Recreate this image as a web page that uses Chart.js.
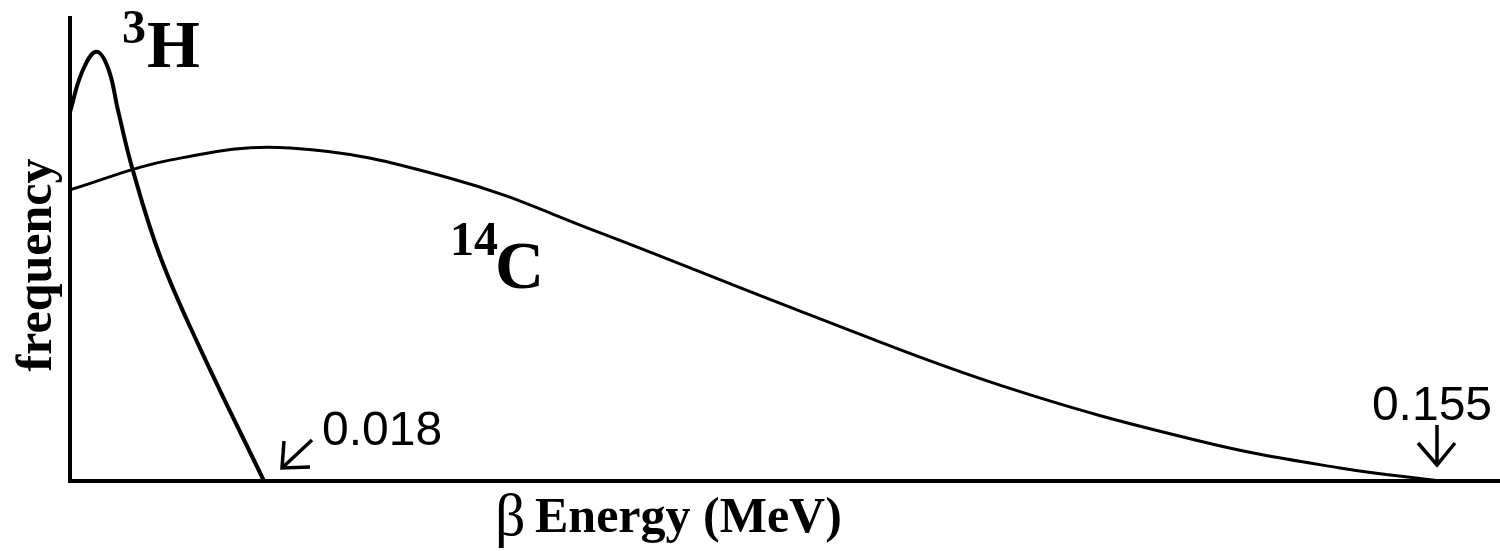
<!DOCTYPE html>
<html>
<head>
<meta charset="utf-8">
<title>Beta energy spectra of 3H and 14C</title>
<script src="https://cdn.jsdelivr.net/npm/chart.js@4/dist/chart.umd.min.js"></script>
<style>
  html, body { margin: 0; padding: 0; background: #fff; }
  #wrap { width: 1500px; height: 551px; }
</style>
</head>
<body>
<div id="wrap"><canvas id="spectrum" width="1500" height="551"></canvas></div>
<script>
// Tritium beta spectrum: energy (MeV) and relative frequency
const h3Energy = [0, 0.00111, 0.00241, 0.00353, 0.00445, 0.00575, 0.00835, 0.01206, 0.018];
const h3Freq   = [79.7, 88.3, 92.7, 89.2, 80.1, 67.8, 48.6, 28.7, 0];

// Carbon-14 beta spectrum: energy (MeV) and relative frequency
const c14Energy = [0, 0.0113, 0.0249, 0.0430, 0.0600, 0.0826, 0.1052, 0.1279, 0.1437, 0.155];
const c14Freq   = [62.9, 69.3, 71.9, 65.4, 53.6, 36.7, 20.7, 8.6, 2.8, 0];

// Endpoint energies (MeV) marked with arrows
const endpointLabels = ['0.018', '0.155'];
const endpointValues = [0.018, 0.155];

const toPoints = (xs, ys) => xs.map((x, i) => ({ x, y: ys[i] }));

const serif = '"Liberation Serif", "Times New Roman", serif';
const sans = '"Liberation Sans", Arial, sans-serif';

function arrowPath(ctx, pts) {
  ctx.beginPath();
  ctx.moveTo(pts[0][0], pts[0][1]);
  for (let i = 1; i < pts.length; i++) ctx.lineTo(pts[i][0], pts[i][1]);
  ctx.stroke();
}

const annotations = {
  id: 'spectrumAnnotations',
  afterDraw(chart) {
    const { ctx } = chart;
    const { x, x2, y } = chart.scales;
    ctx.save();
    ctx.fillStyle = '#000';
    ctx.strokeStyle = '#000';
    ctx.textBaseline = 'alphabetic';

    // Isotope labels
    ctx.textAlign = 'left';
    ctx.font = 'bold 48px ' + serif;
    ctx.fillText('3', 122, 43);
    ctx.font = 'bold 68px ' + serif;
    ctx.fillText('H', 147, 67);
    ctx.font = 'bold 48px ' + serif;
    ctx.fillText('14', 450, 255);
    ctx.font = 'bold 68px ' + serif;
    ctx.fillText('C', 495, 288);

    // Axis titles
    ctx.save();
    ctx.translate(51, 265);
    ctx.rotate(-Math.PI / 2);
    ctx.textAlign = 'center';
    ctx.font = 'bold 50px ' + serif;
    ctx.fillText('frequency', 0, 0);
    ctx.restore();

    ctx.textAlign = 'left';
    ctx.font = '60px ' + serif;
    ctx.fillText('β', 495, 535);
    ctx.font = 'bold 50px ' + serif;
    ctx.fillText('Energy (MeV)', 535, 532);

    // Endpoint markers
    ctx.lineWidth = 3.5;
    ctx.lineCap = 'butt';
    ctx.lineJoin = 'miter';
    const base = y.getPixelForValue(0);

    const t1 = x.getPixelForValue(endpointValues[0]);
    const tip1 = [t1 + 18, base - 13];
    arrowPath(ctx, [[t1 + 48, base - 41], tip1]);
    arrowPath(ctx, [[tip1[0] + 2, tip1[1] - 27], tip1, [tip1[0] + 28, tip1[1] - 1]]);
    ctx.font = '48px ' + sans;
    ctx.textAlign = 'left';
    ctx.fillText(endpointLabels[0], t1 + 58, base - 36);

    const t2 = x2.getPixelForValue(endpointValues[1]);
    const tip2 = [t2 - 3, base - 16];
    arrowPath(ctx, [[tip2[0], base - 56], tip2]);
    arrowPath(ctx, [[tip2[0] - 19, tip2[1] - 22], tip2, [tip2[0] + 18, tip2[1] - 22]]);
    ctx.textAlign = 'center';
    ctx.fillText(endpointLabels[1], t2 - 8, base - 61);

    ctx.restore();
  }
};

new Chart(document.getElementById('spectrum'), {
  type: 'line',
  data: {
    datasets: [
      {
        label: '3H',
        data: toPoints(h3Energy, h3Freq),
        xAxisID: 'x',
        borderColor: '#000',
        borderWidth: 4,
        pointRadius: 0,
        tension: 0.4,
        fill: false
      },
      {
        label: '14C',
        data: toPoints(c14Energy, c14Freq),
        xAxisID: 'x2',
        borderColor: '#000',
        borderWidth: 3,
        pointRadius: 0,
        tension: 0.4,
        fill: false
      }
    ]
  },
  options: {
    responsive: false,
    animation: false,
    layout: { padding: { left: 70, top: 18, right: 0, bottom: 70 } },
    plugins: { legend: { display: false }, tooltip: { enabled: false } },
    scales: {
      x: {
        type: 'linear',
        min: 0,
        max: 0.13268,
        ticks: { display: false },
        grid: { display: false, drawTicks: false },
        border: { display: true, color: '#000', width: 4 }
      },
      x2: {
        type: 'linear',
        min: 0,
        max: 0.16179,
        display: false
      },
      y: {
        type: 'linear',
        min: 0,
        max: 100,
        ticks: { display: false },
        grid: { display: false, drawTicks: false },
        border: { display: true, color: '#000', width: 4 }
      }
    }
  },
  plugins: [annotations]
});
</script>
</body>
</html>
